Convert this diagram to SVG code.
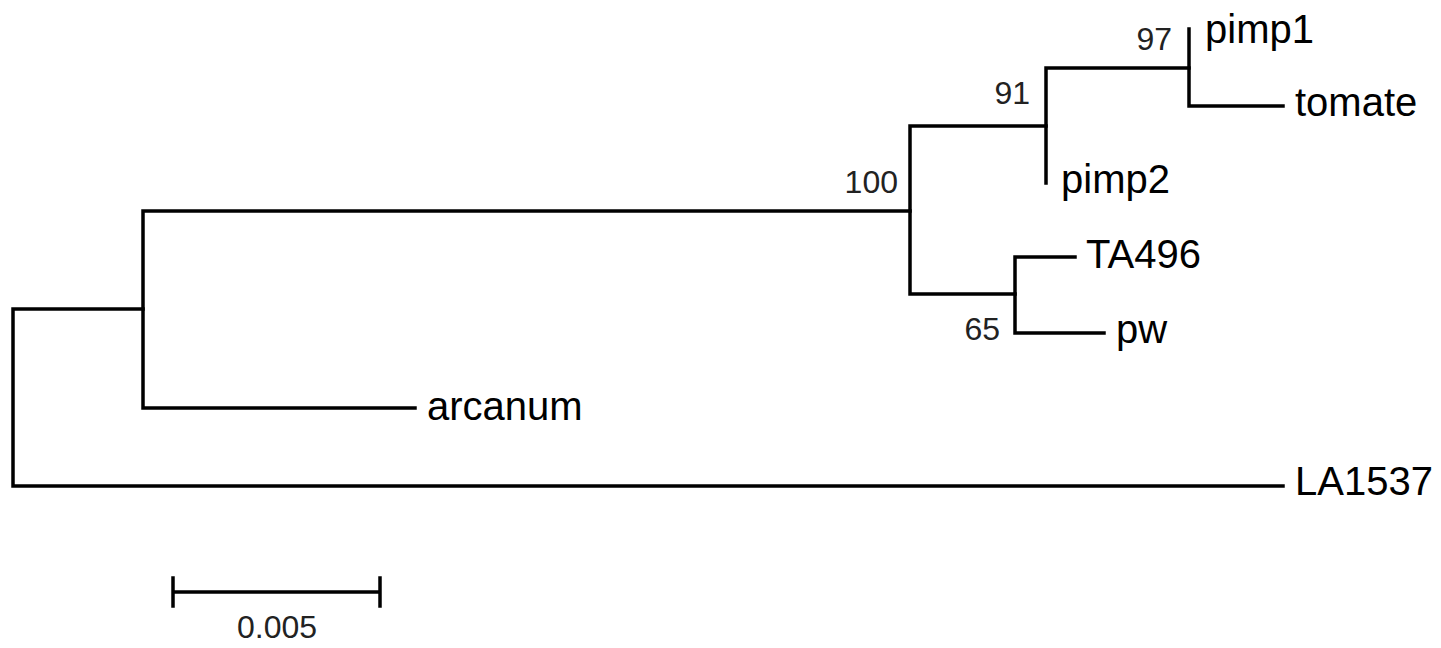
<svg xmlns="http://www.w3.org/2000/svg" width="1441" height="648" viewBox="0 0 1441 648">
<style>
.br{stroke:#000;stroke-width:3.5;fill:none;stroke-linecap:square}
.lf{font-family:"Liberation Sans",Arial,sans-serif;font-size:40px;fill:#000}
.bs{font-family:"Liberation Sans",Arial,sans-serif;font-size:32px;fill:#222;text-anchor:end}
.sc{font-family:"Liberation Sans",Arial,sans-serif;font-size:32px;fill:#222;text-anchor:middle}
</style>
<rect width="1441" height="648" fill="#fff"/>
<g id="connectors">
<path class="br" d="M13 309 V486 M13 309 H143 M13 486 H1283"/>
<path class="br" d="M143 211 V408 M143 408 H415 M143 211 H910"/>
<path class="br" d="M910 126 V294 M910 126 H1046 M910 294 H1015"/>
<path class="br" d="M1046 68 V183 M1046 68 H1189"/>
<path class="br" d="M1189 29 V106 M1189 106 H1283"/>
<path class="br" d="M1015 257 V333 M1015 257 H1075 M1015 333 H1104"/>
</g>
<g id="n-pimp1"><text class="lf" x="1205" y="43">pimp1</text></g>
<g id="n-tomate"><text class="lf" x="1295" y="116">tomate</text></g>
<g id="n-pimp2"><text class="lf" x="1061" y="193">pimp2</text></g>
<g id="n-TA496"><text class="lf" x="1086" y="268">TA496</text></g>
<g id="n-pw"><text class="lf" x="1116" y="343">pw</text></g>
<g id="n-arcanum"><text class="lf" x="427" y="420">arcanum</text></g>
<g id="n-LA1537"><text class="lf" x="1295" y="495">LA1537</text></g>
<g id="bootstrap">
<text class="bs" x="1172" y="50">97</text>
<text class="bs" x="1030" y="104">91</text>
<text class="bs" x="898" y="193">100</text>
<text class="bs" x="1000" y="340">65</text>
</g>
<g id="scale">
<path class="br" d="M173 592 H380 M173 578 V606 M380 578 V606"/>
<text class="sc" x="277" y="638">0.005</text>
</g>
</svg>
